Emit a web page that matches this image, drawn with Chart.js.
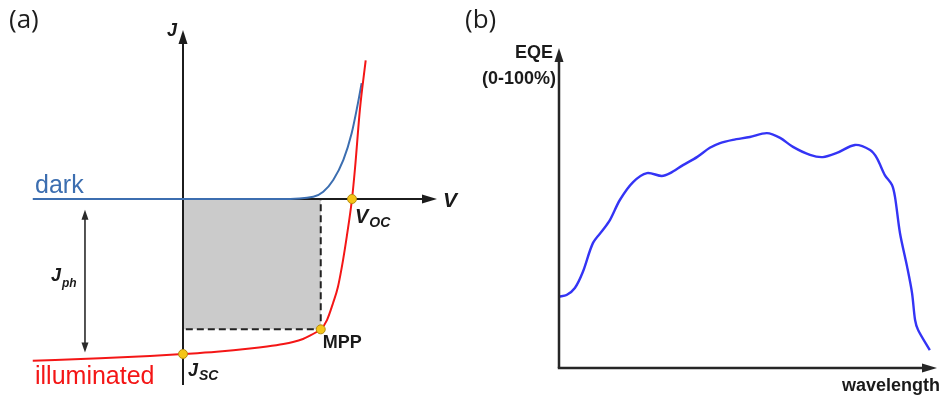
<!DOCTYPE html>
<html><head><meta charset="utf-8">
<script src="https://cdn.jsdelivr.net/npm/chart.js@4"></script>
<style>
html,body{margin:0;padding:0;background:#fff;}
#wrap{position:relative;width:945px;height:398px;overflow:hidden;background:#fff;}
canvas{position:absolute;top:0;}
#cA{left:0;} #cB{left:460px;}
</style></head><body>
<div id="wrap"><canvas id="cA" width="460" height="398"></canvas><canvas id="cB" width="485" height="398"></canvas></div>
<script>
// ---------- Panel (a): J–V characteristics (arbitrary units: Voc = 1, Jsc = -1) ----------
const darkV  = [-0.889, 0, 0.574, 0.771, 0.830, 0.889, 0.949, 0.998, 1.031, 1.057];
const darkJ  = [0, 0, 0, 0.015, 0.047, 0.123, 0.252, 0.424, 0.595, 0.748];
const illumV = [-0.889, -0.491, -0.195, 0, 0.199, 0.396, 0.497, 0.594, 0.651, 0.710, 0.751, 0.791, 0.815, 0.852, 0.888, 0.917, 0.947, 0.969, 1.0, 1.018, 1.047, 1.081];
const illumJ = [-1.043, -1.028, -1.013, -1.0, -0.985, -0.965, -0.952, -0.936, -0.923, -0.903, -0.882, -0.858, -0.841, -0.781, -0.671, -0.566, -0.394, -0.243, 0, 0.20, 0.58, 0.894];
const keyPointNames = ['Jsc', 'MPP', 'Voc'];
const keyPointV = [0, 0.815, 1.0];
const keyPointJ = [-1.0, -0.841, 0];
const jphArrowV = -0.58;
const jphArrowJ = [-0.07, -0.99];

// ---------- Panel (b): EQE spectrum (arbitrary wavelength units, EQE in %) ----------
const wavelength = [0, 2.0, 4.2, 6.3, 9.0, 11.6, 13.5, 16.1, 19.6, 23.3, 27.2, 29.4, 32.8, 36.5, 39.9, 42.6, 46.0, 50.5, 55.0, 58.5, 61.9, 66.4, 69.8, 73.5, 78.3, 82.3, 84.1, 86.2, 88.1, 88.9, 90.2, 92.1, 93.4, 94.2, 95.0, 98.1];
const eqe        = [22.3, 22.8, 25.0, 30.0, 39.1, 43.1, 46.3, 52.5, 58.1, 60.9, 60.0, 60.9, 63.4, 65.9, 68.8, 70.3, 71.3, 72.2, 73.4, 71.9, 69.1, 66.6, 65.9, 67.2, 69.7, 68.1, 65.6, 60.3, 57.2, 53.4, 42.2, 31.6, 23.4, 15.0, 11.9, 5.6];

const C_DARK = '#3c6eb0', C_RED = '#f41616', C_EQE = '#3434f5', C_AX = '#1c1c1c';
const SANS = '"Liberation Sans", Arial, sans-serif';

function arrowHead(ctx, x, y, dir, len, half) {
  ctx.beginPath();
  if (dir === 'up') { ctx.moveTo(x, y); ctx.lineTo(x - half, y + len); ctx.lineTo(x + half, y + len); }
  else if (dir === 'down') { ctx.moveTo(x, y); ctx.lineTo(x - half, y - len); ctx.lineTo(x + half, y - len); }
  else { ctx.moveTo(x, y); ctx.lineTo(x - len, y - half); ctx.lineTo(x - len, y + half); }
  ctx.closePath(); ctx.fill();
}
function subText(ctx, main, sub, x, y, mainSize, subSize, subDy) {
  ctx.font = 'italic bold ' + mainSize + 'px ' + SANS;
  ctx.fillText(main, x, y);
  const w = ctx.measureText(main).width;
  ctx.font = 'italic bold ' + subSize + 'px ' + SANS;
  ctx.fillText(sub, x + w + 1, y + subDy);
}
const pts = (xs, ys) => xs.map((x, i) => ({ x: x, y: ys[i] }));

// ---------- Chart A ----------
const iMPP = keyPointNames.indexOf('MPP');
const rectPts = [
  { x: 0, y: 0 }, { x: keyPointV[iMPP], y: 0 }, { x: keyPointV[iMPP], y: keyPointJ[iMPP] },
  { x: 0, y: keyPointJ[iMPP] }, { x: 0, y: 0 }
];

const pluginA = {
  id: 'panelA',
  afterDatasetDraw(chart, args) {
    if (args.index !== 0) return;
    const ctx = chart.ctx, xs = chart.scales.x, ys = chart.scales.y;
    const x0 = xs.getPixelForValue(0), y0 = ys.getPixelForValue(0);
    ctx.save();
    ctx.strokeStyle = C_AX; ctx.fillStyle = C_AX; ctx.lineWidth = 2;
    // J axis
    const jTop = ys.getPixelForValue(1.09), jBot = ys.getPixelForValue(-1.2);
    ctx.beginPath(); ctx.moveTo(x0, jBot); ctx.lineTo(x0, jTop + 8); ctx.stroke();
    arrowHead(ctx, x0, jTop, 'up', 14, 4.5);
    // V axis
    const vEnd = xs.getPixelForValue(1.503);
    ctx.beginPath(); ctx.moveTo(x0, y0); ctx.lineTo(vEnd - 8, y0); ctx.stroke();
    arrowHead(ctx, vEnd, y0, 'right', 15, 4.5);
    ctx.restore();
  },
  afterDraw(chart) {
    const ctx = chart.ctx, xs = chart.scales.x, ys = chart.scales.y;
    const px = v => xs.getPixelForValue(v), py = j => ys.getPixelForValue(j);
    ctx.save();
    // Jph double arrow
    const ax = px(jphArrowV), a1 = py(jphArrowJ[0]), a2 = py(jphArrowJ[1]);
    ctx.strokeStyle = '#2a2a2a'; ctx.fillStyle = '#2a2a2a'; ctx.lineWidth = 1.6;
    ctx.beginPath(); ctx.moveTo(ax, a1 + 6); ctx.lineTo(ax, a2 - 6); ctx.stroke();
    arrowHead(ctx, ax, a1, 'up', 10, 3.5);
    arrowHead(ctx, ax, a2, 'down', 10, 3.5);
    // labels
    ctx.textBaseline = 'alphabetic'; ctx.textAlign = 'left';
    ctx.fillStyle = '#1e1e1e';
    ctx.font = '26px "Open Sans", sans-serif';
    ctx.fillText('(a)', 9, 28);
    ctx.fillStyle = '#1a1a1a';
    ctx.font = 'italic bold 18px ' + SANS;
    ctx.fillText('J', px(0) - 16, py(1.09) + 6);
    ctx.font = 'italic bold 21px ' + SANS;
    ctx.fillText('V', px(1.503) + 6, py(0) + 8);
    ctx.fillStyle = C_DARK;
    ctx.font = '25px ' + SANS;
    ctx.fillText('dark', 35, py(0) - 6);
    ctx.fillStyle = C_RED;
    ctx.fillText('illuminated', 35, 384);
    ctx.fillStyle = '#1a1a1a';
    subText(ctx, 'J', 'ph', px(jphArrowV) - 34, py(-0.53), 18, 12, 6);
    const iV = keyPointNames.indexOf('Voc'), iJ = keyPointNames.indexOf('Jsc');
    subText(ctx, 'V', 'OC', px(keyPointV[iV]) + 3, py(keyPointJ[iV]) + 24, 20, 14, 4);
    ctx.font = 'bold 18px ' + SANS;
    ctx.fillText('MPP', px(keyPointV[iMPP]) + 2, py(keyPointJ[iMPP]) + 19);
    subText(ctx, 'J', 'SC', px(keyPointV[iJ]) + 5, py(keyPointJ[iJ]) + 22, 18, 14, 4);
    ctx.restore();
  }
};

new Chart(document.getElementById('cA'), {
  type: 'line',
  data: {
    datasets: [
      { data: rectPts, borderColor: '#222', borderWidth: 2, borderDash: [7, 4], backgroundColor: '#cbcbcb',
        fill: 'shape', tension: 0, pointRadius: 0, order: 5 },
      { data: pts(darkV, darkJ), borderColor: C_DARK, borderWidth: 2, pointRadius: 0, fill: false,
        cubicInterpolationMode: 'monotone', order: 3 },
      { data: pts(illumV, illumJ), borderColor: C_RED, borderWidth: 2, pointRadius: 0, fill: false,
        cubicInterpolationMode: 'monotone', order: 2 },
      { data: pts(keyPointV, keyPointJ), showLine: false, pointRadius: 4.5, pointBackgroundColor: '#f5c518',
        pointBorderColor: '#b58a10', pointBorderWidth: 1, clip: false, order: 1 }
    ]
  },
  options: {
    responsive: false, animation: false, devicePixelRatio: 1,
    layout: { padding: { left: 14, right: 6.6, top: 13, bottom: 13 } },
    plugins: { legend: { display: false }, tooltip: { enabled: false }, title: { display: false } },
    scales: {
      x: { type: 'linear', min: -1.0, max: 1.6, display: false },
      y: { type: 'linear', min: -1.2, max: 1.2, display: false }
    }
  },
  plugins: [pluginA]
});

// ---------- Chart B ----------
const pluginB = {
  id: 'panelB',
  afterDatasetsDraw(chart) {
    const ctx = chart.ctx, xs = chart.scales.x, ys = chart.scales.y;
    const x0 = xs.getPixelForValue(0), y0 = ys.getPixelForValue(0);
    const xEnd = xs.getPixelForValue(100), yTop = ys.getPixelForValue(100);
    ctx.save();
    ctx.strokeStyle = '#262626'; ctx.fillStyle = '#262626'; ctx.lineWidth = 2.5;
    ctx.beginPath(); ctx.moveTo(x0, y0); ctx.lineTo(x0, yTop + 8); ctx.stroke();
    arrowHead(ctx, x0, yTop, 'up', 14, 4.5);
    ctx.beginPath(); ctx.moveTo(x0 - 1.2, y0); ctx.lineTo(xEnd - 8, y0); ctx.stroke();
    arrowHead(ctx, xEnd, y0, 'right', 15, 4.5);
    ctx.fillStyle = '#1e1e1e';
    ctx.font = '26px "Open Sans", sans-serif';
    ctx.textAlign = 'left';
    ctx.fillText('(b)', 5, 28);
    ctx.fillStyle = '#1a1a1a';
    ctx.font = 'bold 18px ' + SANS;
    ctx.textAlign = 'right';
    ctx.fillText('EQE', x0 - 6, yTop + 10);
    ctx.fillText('(0-100%)', x0 - 3, yTop + 36);
    ctx.textAlign = 'left';
    ctx.fillText('wavelength', xEnd - 95, y0 + 23);
    ctx.restore();
  }
};

new Chart(document.getElementById('cB'), {
  type: 'line',
  data: {
    datasets: [
      { data: pts(wavelength, eqe), borderColor: C_EQE, borderWidth: 2.4, pointRadius: 0, fill: false, tension: 0.3 }
    ]
  },
  options: {
    responsive: false, animation: false, devicePixelRatio: 1,
    layout: { padding: { left: 99, right: 8, top: 48, bottom: 30 } },
    plugins: { legend: { display: false }, tooltip: { enabled: false }, title: { display: false } },
    scales: {
      x: { type: 'linear', min: 0, max: 100, display: false },
      y: { type: 'linear', min: 0, max: 100, display: false }
    }
  },
  plugins: [pluginB]
});
</script>
</body></html>
